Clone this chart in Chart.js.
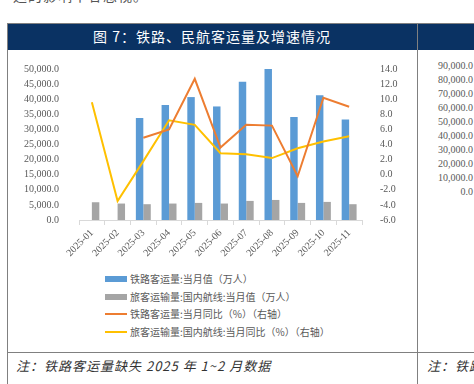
<!DOCTYPE html>
<html>
<head>
<meta charset="utf-8">
<script src="https://cdn.jsdelivr.net/npm/chart.js@4.4.1/dist/chart.umd.min.js"></script>
<style>
  html, body { margin:0; padding:0; background:#fff; }
  body { width:474px; height:384px; position:relative; overflow:hidden; font-family:"Liberation Serif", serif; }
  .abs { position:absolute; }
  #toptext { left:13px; top:-15px; font-size:14px; color:#555; font-family:"Noto Sans CJK SC", sans-serif; letter-spacing:1px; white-space:nowrap; }
  .bar { background:#0a3263; top:23px; height:27px; }
  #title { left:7px; width:410px; top:23px; height:27px; line-height:27px; color:#fff; text-align:center; font-size:14px; font-family:"Noto Sans CJK SC", sans-serif; letter-spacing:1px; }
  .vline { background:#808080; width:1px; }
  .hline { background:#808080; height:1px; }
  #legend { left:105px; top:270px; font-family:"Noto Sans CJK SC", sans-serif; font-size:10px; color:#595959; }
  .li { position:absolute; left:0; white-space:nowrap; height:18px; line-height:18px; }
  .sw { position:absolute; left:0; width:22px; }
  .lt { position:absolute; left:25px; top:0; }
  #note { left:16px; top:356px; font-size:13px; color:#333; font-style:italic; font-family:"Noto Sans CJK SC", sans-serif; white-space:nowrap; letter-spacing:1px;}
  #note2 { left:427px; top:356px; font-size:13px; color:#333; font-style:italic; font-family:"Noto Sans CJK SC", sans-serif; white-space:nowrap; letter-spacing:1px;}
  .rt { font-size:10px; color:#595959; font-family:"Liberation Serif", serif; width:36px; text-align:right; left:437px; }
</style>
</head>
<body>
<div id="toptext" class="abs">运的影响不容忽视。</div>
<div class="abs bar" style="left:7px; width:410px;"></div>
<div class="abs bar" style="left:418px; width:56px;"></div>
<div id="title" class="abs">图 7：铁路、民航客运量及增速情况</div>
<div class="abs vline" style="left:7px; top:23px; height:361px;"></div>
<div class="abs vline" style="left:417px; top:23px; height:361px;"></div>
<div class="abs hline" style="left:7px; top:23px; width:467px;"></div>
<div class="abs hline" style="left:7px; top:352px; width:467px;"></div>
<div id="note" class="abs">注：铁路客运量缺失 2025 年 1~2 月数据</div>
<div id="note2" class="abs">注：铁路</div>
<div id="rightTicks"></div>

<canvas id="c" class="abs" style="left:8px; top:51px;" width="408" height="215"></canvas>

<div id="legend" class="abs">
  <div class="li" style="top:0px;"><div class="sw" style="top:6px;height:6px;background:#5B9BD5;"></div><span class="lt">铁路客运量:当月值（万人）</span></div>
  <div class="li" style="top:18px;"><div class="sw" style="top:6px;height:6px;background:#A5A5A5;"></div><span class="lt">旅客运输量:国内航线:当月值（万人）</span></div>
  <div class="li" style="top:35px;"><div class="sw" style="top:8px;height:2px;background:#ED7D31;"></div><span class="lt">铁路客运量:当月同比（%）（右轴）</span></div>
  <div class="li" style="top:53px;"><div class="sw" style="top:8px;height:2px;background:#FFC000;"></div><span class="lt">旅客运输量:国内航线:当月同比（%）（右轴）</span></div>
</div>

<script>
const categories = ["2025-01","2025-02","2025-03","2025-04","2025-05","2025-06","2025-07","2025-08","2025-09","2025-10","2025-11"];
const railVolume = [null, null, 33800, 38100, 40700, 37600, 45750, 50300, 34100, 41300, 33250];
const airVolume = [5880, 5450, 5230, 5450, 5660, 5450, 6320, 6640, 5660, 5990, 5230];
const railYoY = [null, null, 4.9, 6.0, 12.7, 3.6, 6.6, 6.5, -0.2, 10.2, 9.0];
const airYoY = [9.6, -3.5, 1.8, 7.2, 6.6, 2.85, 2.7, 2.2, 3.5, 4.4, 5.1];
const rightPanelTicks = ["90,000.0","80,000.0","70,000.0","60,000.0","50,000.0","40,000.0","30,000.0","20,000.0","10,000.0","0.0"];

const rt = document.getElementById('rightTicks');
rightPanelTicks.forEach((t, i) => {
  const d = document.createElement('div');
  d.className = 'abs rt';
  d.style.top = (60 + i * 14) + 'px';
  d.textContent = t;
  rt.appendChild(d);
});

const fmt1 = v => Number(v).toLocaleString('en-US', {minimumFractionDigits:1, maximumFractionDigits:1});
const tickFont = { family: "'Liberation Serif', serif", size: 10 };

new Chart(document.getElementById('c'), {
  data: {
    labels: categories,
    datasets: [
      { type:'line', label:'铁路客运量:当月同比（%）（右轴）', data: railYoY, yAxisID:'y1', borderColor:'#ED7D31', backgroundColor:'#ED7D31', borderWidth:2, pointRadius:0, tension:0, order:0 },
      { type:'line', label:'旅客运输量:国内航线:当月同比（%）（右轴）', data: airYoY, yAxisID:'y1', borderColor:'#FFC000', backgroundColor:'#FFC000', borderWidth:2, pointRadius:0, tension:0, order:1 },
      { type:'bar', label:'铁路客运量:当月值（万人）', data: railVolume, yAxisID:'y', backgroundColor:'#5B9BD5', categoryPercentage:0.58, barPercentage:1.0, order:2 },
      { type:'bar', label:'旅客运输量:国内航线:当月值（万人）', data: airVolume, yAxisID:'y', backgroundColor:'#A5A5A5', categoryPercentage:0.58, barPercentage:1.0, order:2 }
    ]
  },
  options: {
    responsive:false, animation:false,
    layout: { padding: { left: 10, right: 10, top: 6, bottom: 0 } },
    plugins: { legend: { display:false }, tooltip: { enabled:false } },
    scales: {
      x: {
        offset:true,
        grid: { display:true, drawOnChartArea:false, drawTicks:true, tickLength:5, color:'#D9D9D9', offset:true },
        border: { display:true, color:'#D9D9D9' },
        ticks: { font: tickFont, color:'#595959', maxRotation:45, minRotation:45, padding:2, autoSkip:false },
        afterFit: s => { s.height = 46; }
      },
      y: {
        position:'left', min:0, max:50000,
        grid: { display:false }, border: { display:false },
        ticks: { stepSize:5000, font: tickFont, color:'#595959', padding:12, callback: v => fmt1(v) },
        afterFit: s => { s.width = 61; }
      },
      y1: {
        position:'right', min:-6, max:14,
        grid: { display:false }, border: { display:false },
        ticks: { stepSize:2, font: tickFont, color:'#595959', padding:10, callback: v => fmt1(v) },
        afterFit: s => { s.width = 44; }
      }
    }
  }
});
</script>
</body>
</html>
